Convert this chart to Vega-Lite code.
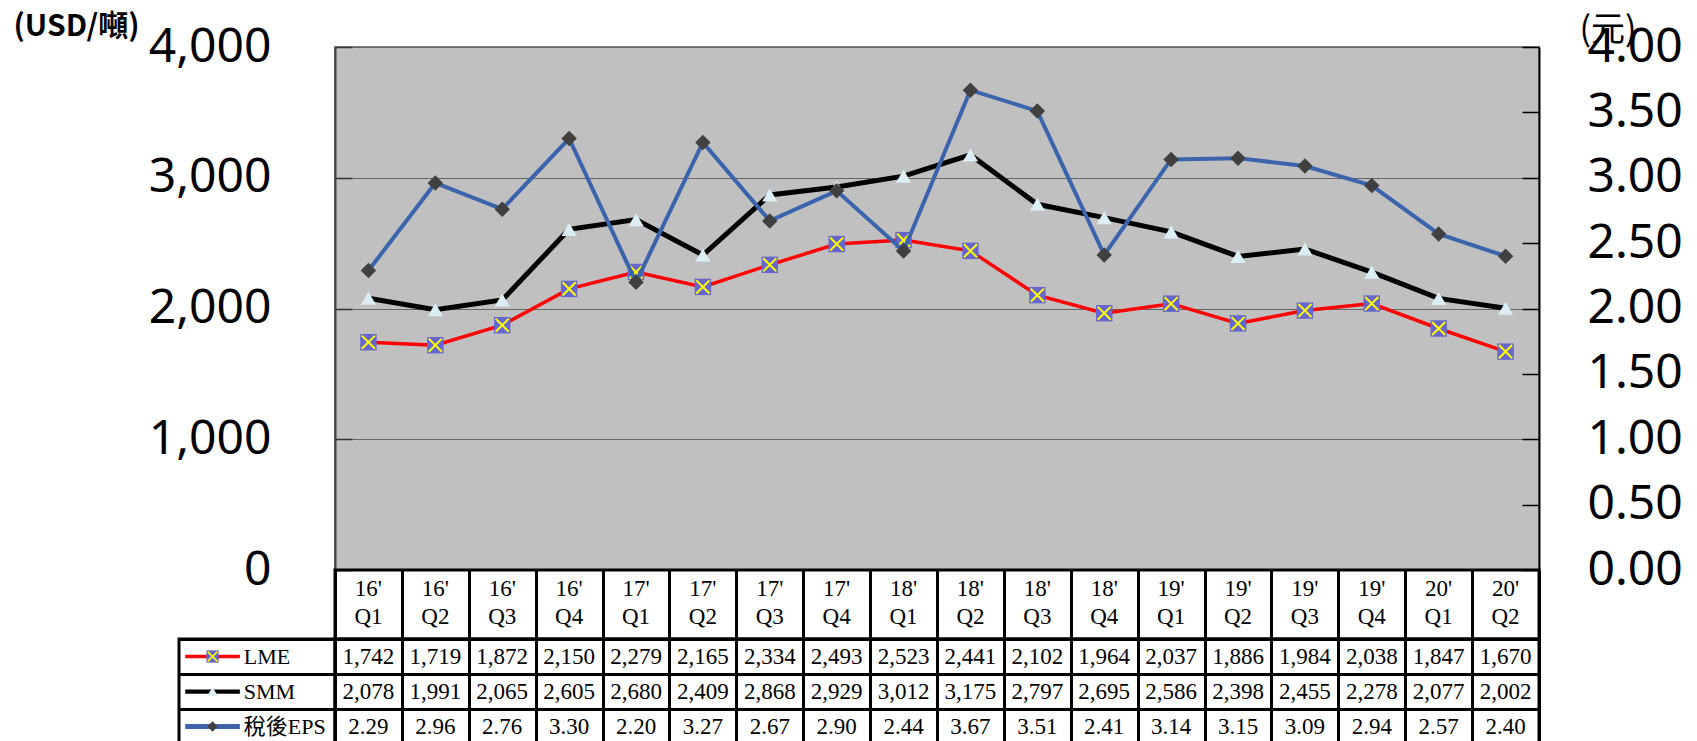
{
 "$schema": "https://vega.github.io/schema/vega-lite/v6.json",
 "padding": {"left": 12, "top": 10, "right": 5, "bottom": 0},
 "background": "white",
 "config": {"view": {"stroke": null}},
 "datasets": {
  "q": [
   {"quarter": "16'\nQ1", "LME": 1742, "SMM": 2078, "EPS": 2.29},
   {"quarter": "16'\nQ2", "LME": 1719, "SMM": 1991, "EPS": 2.96},
   {"quarter": "16'\nQ3", "LME": 1872, "SMM": 2065, "EPS": 2.76},
   {"quarter": "16'\nQ4", "LME": 2150, "SMM": 2605, "EPS": 3.30},
   {"quarter": "17'\nQ1", "LME": 2279, "SMM": 2680, "EPS": 2.20},
   {"quarter": "17'\nQ2", "LME": 2165, "SMM": 2409, "EPS": 3.27},
   {"quarter": "17'\nQ3", "LME": 2334, "SMM": 2868, "EPS": 2.67},
   {"quarter": "17'\nQ4", "LME": 2493, "SMM": 2929, "EPS": 2.90},
   {"quarter": "18'\nQ1", "LME": 2523, "SMM": 3012, "EPS": 2.44},
   {"quarter": "18'\nQ2", "LME": 2441, "SMM": 3175, "EPS": 3.67},
   {"quarter": "18'\nQ3", "LME": 2102, "SMM": 2797, "EPS": 3.51},
   {"quarter": "18'\nQ4", "LME": 1964, "SMM": 2695, "EPS": 2.41},
   {"quarter": "19'\nQ1", "LME": 2037, "SMM": 2586, "EPS": 3.14},
   {"quarter": "19'\nQ2", "LME": 1886, "SMM": 2398, "EPS": 3.15},
   {"quarter": "19'\nQ3", "LME": 1984, "SMM": 2455, "EPS": 3.09},
   {"quarter": "19'\nQ4", "LME": 2038, "SMM": 2278, "EPS": 2.94},
   {"quarter": "20'\nQ1", "LME": 1847, "SMM": 2077, "EPS": 2.57},
   {"quarter": "20'\nQ2", "LME": 1670, "SMM": 2002, "EPS": 2.40}
  ],
  "leg": [
   {"series": "LME", "label": "LME"},
   {"series": "SMM", "label": "SMM"},
   {"series": "EPS", "label": "稅後EPS"}
  ]
 },
 "columns": 2,
 "spacing": 0,
 "bounds": "flush",
 "align": "each",
 "concat": [
  {"width": 156, "height": 523, "data": {"name": "leg"}, "mark": {"type": "point", "opacity": 0}},
  {
   "width": 1204, "height": 523,
   "data": {"name": "q"},
   "view": {"fill": "#c0c0c0", "stroke": "#808080", "strokeWidth": 2},
   "encoding": {
    "x": {"field": "quarter", "type": "ordinal",
     "scale": {"type": "point", "padding": 0.5, "domain": ["16'\nQ1","16'\nQ2","16'\nQ3","16'\nQ4","17'\nQ1","17'\nQ2","17'\nQ3","17'\nQ4","18'\nQ1","18'\nQ2","18'\nQ3","18'\nQ4","19'\nQ1","19'\nQ2","19'\nQ3","19'\nQ4","20'\nQ1","20'\nQ2"]},
     "axis": null}
   },
   "layer": [
    {
     "transform": [{"fold": ["LME", "SMM"], "as": ["s", "v"]}],
     "encoding": {
      "y": {"field": "v", "type": "quantitative", "scale": {"domain": [0, 4000]},
       "axis": {"orient": "left", "title": "(USD/噸)", "titleAngle": 0, "titleAlign": "left", "titleBaseline": "top", "titleX": -322, "titleY": -36,
        "titleFont": "Noto Sans CJK TC", "titleFontSize": 30, "titleFontWeight": "bold", "titleColor": "#000",
        "values": [0, 1000, 2000, 3000, 4000], "format": ",.0f", "labelFont": "Noto Sans", "labelFontSize": 48, "labelColor": "#000",
        "labelPadding": 81, "labelFlush": false, "labelOverlap": false,
        "ticks": true, "tickSize": -17, "tickColor": "#333333", "tickWidth": 1.5,
        "domain": true, "domainColor": "#404040", "domainWidth": 2,
        "grid": true, "gridColor": "#666666", "gridWidth": 1}}
     },
     "layer": [
      {"transform": [{"filter": "datum.s === 'LME'"}], "mark": {"type": "line", "color": "#ff0000", "strokeWidth": 3.5}},
      {"transform": [{"filter": "datum.s === 'LME'"}], "mark": {"type": "point", "shape": "square", "filled": true, "color": "#6666cc", "size": 270, "opacity": 1}},
      {"transform": [{"filter": "datum.s === 'LME'"}], "mark": {"type": "point", "shape": "M-0.8,-0.8L0.8,0.8M0.8,-0.8L-0.8,0.8", "filled": false, "stroke": "#ffff00", "strokeWidth": 2, "size": 270, "opacity": 1}},
      {"transform": [{"filter": "datum.s === 'SMM'"}], "mark": {"type": "line", "color": "#000000", "strokeWidth": 5}},
      {"transform": [{"filter": "datum.s === 'SMM'"}], "mark": {"type": "point", "shape": "triangle-up", "filled": true, "color": "#dbeef3", "size": 230, "opacity": 1}}
     ]
    },
    {
     "encoding": {
      "y": {"field": "EPS", "type": "quantitative", "scale": {"domain": [0, 4]},
       "axis": {"orient": "right", "title": "(元)", "titleAngle": 0, "titleAlign": "left", "titleBaseline": "top", "titleX": 40, "titleY": -34,
        "titleFont": "Noto Sans CJK TC", "titleFontSize": 34, "titleFontWeight": "normal", "titleColor": "#000", "titleLimit": 200,
        "values": [0, 0.5, 1, 1.5, 2, 2.5, 3, 3.5, 4], "format": ".2f", "labelFont": "Noto Sans", "labelFontSize": 48, "labelColor": "#000",
        "labelPadding": 65, "labelFlush": false, "labelOverlap": false,
        "ticks": true, "tickSize": -17, "tickColor": "#000000", "tickWidth": 1.5,
        "domain": true, "domainColor": "#000000", "domainWidth": 2, "grid": false}}
     },
     "layer": [
      {"mark": {"type": "line", "color": "#3b64ad", "strokeWidth": 4}},
      {"mark": {"type": "point", "shape": "diamond", "filled": true, "color": "#404040", "size": 240, "opacity": 1}}
     ]
    }
   ],
   "resolve": {"scale": {"y": "independent"}}
  },
  {"width": 156, "height": 69, "data": {"name": "leg"}, "mark": {"type": "point", "opacity": 0}},
  {
   "width": 1204, "height": 69,
   "data": {"name": "q"},
   "view": {"stroke": "#000000", "strokeWidth": 3},
   "mark": {"type": "text", "lineBreak": "\n", "font": "Liberation Serif", "fontSize": 23, "lineHeight": 28, "color": "#000", "baseline": "middle", "dy": -16},
   "encoding": {
    "x": {"field": "quarter", "type": "ordinal",
     "scale": {"type": "band", "paddingInner": 0, "paddingOuter": 0, "domain": ["16'\nQ1","16'\nQ2","16'\nQ3","16'\nQ4","17'\nQ1","17'\nQ2","17'\nQ3","17'\nQ4","18'\nQ1","18'\nQ2","18'\nQ3","18'\nQ4","19'\nQ1","19'\nQ2","19'\nQ3","19'\nQ4","20'\nQ1","20'\nQ2"]},
     "axis": {"grid": true, "tickBand": "extent", "gridColor": "#000", "gridWidth": 3, "labels": false, "ticks": false, "domain": false, "title": null}},
    "text": {"field": "quarter"}
   }
  },
  {
   "width": 156, "height": 105,
   "data": {"name": "leg"},
   "view": {"stroke": "#000000", "strokeWidth": 3},
   "encoding": {
    "y": {"field": "series", "type": "nominal",
     "scale": {"type": "band", "domain": ["LME", "SMM", "EPS"], "paddingInner": 0, "paddingOuter": 0},
     "axis": {"grid": true, "tickBand": "extent", "gridColor": "#000", "gridWidth": 3, "labels": false, "ticks": false, "domain": false, "title": null}}
   },
   "layer": [
    {"mark": {"type": "rule"},
     "encoding": {
      "x": {"datum": 0.04, "type": "quantitative", "scale": {"domain": [0, 1]}, "axis": null},
      "x2": {"datum": 0.39},
      "color": {"field": "series", "type": "nominal", "scale": {"domain": ["LME", "SMM", "EPS"], "range": ["#ff0000", "#000000", "#3b64ad"]}, "legend": null},
      "strokeWidth": {"field": "series", "type": "nominal", "scale": {"domain": ["LME", "SMM", "EPS"], "range": [3.5, 5, 4]}, "legend": null}
     }},
    {"transform": [{"filter": "datum.series === 'LME'"}], "mark": {"type": "point", "shape": "square", "filled": true, "color": "#6666cc", "size": 150, "opacity": 1},
     "encoding": {"x": {"datum": 0.215, "type": "quantitative"}}},
    {"transform": [{"filter": "datum.series === 'LME'"}], "mark": {"type": "point", "shape": "M-0.8,-0.8L0.8,0.8M0.8,-0.8L-0.8,0.8", "filled": false, "stroke": "#ffff00", "strokeWidth": 1.5, "size": 150, "opacity": 1},
     "encoding": {"x": {"datum": 0.215, "type": "quantitative"}}},
    {"transform": [{"filter": "datum.series === 'SMM'"}], "mark": {"type": "point", "shape": "triangle-up", "filled": true, "color": "#dbeef3", "size": 110, "opacity": 1},
     "encoding": {"x": {"datum": 0.215, "type": "quantitative"}}},
    {"transform": [{"filter": "datum.series === 'EPS'"}], "mark": {"type": "point", "shape": "diamond", "filled": true, "color": "#404040", "size": 110, "opacity": 1},
     "encoding": {"x": {"datum": 0.215, "type": "quantitative"}}},
    {"mark": {"type": "text", "font": "Liberation Serif, Noto Sans CJK TC", "fontSize": 22, "align": "left", "baseline": "middle", "color": "#000"},
     "encoding": {"x": {"datum": 0.415, "type": "quantitative"}, "text": {"field": "label"}}}
   ]
  },
  {
   "width": 1204, "height": 105,
   "data": {"name": "q"},
   "view": {"stroke": "#000000", "strokeWidth": 3},
   "transform": [{"fold": ["LME", "SMM", "EPS"], "as": ["s", "v"]}],
   "encoding": {
    "x": {"field": "quarter", "type": "ordinal",
     "scale": {"type": "band", "paddingInner": 0, "paddingOuter": 0, "domain": ["16'\nQ1","16'\nQ2","16'\nQ3","16'\nQ4","17'\nQ1","17'\nQ2","17'\nQ3","17'\nQ4","18'\nQ1","18'\nQ2","18'\nQ3","18'\nQ4","19'\nQ1","19'\nQ2","19'\nQ3","19'\nQ4","20'\nQ1","20'\nQ2"]},
     "axis": {"grid": true, "tickBand": "extent", "gridColor": "#000", "gridWidth": 3, "labels": false, "ticks": false, "domain": false, "title": null}},
    "y": {"field": "s", "type": "nominal",
     "scale": {"type": "band", "domain": ["LME", "SMM", "EPS"], "paddingInner": 0, "paddingOuter": 0},
     "axis": {"grid": true, "tickBand": "extent", "gridColor": "#000", "gridWidth": 3, "labels": false, "ticks": false, "domain": false, "title": null}}
   },
   "layer": [
    {"transform": [{"filter": "datum.s !== 'EPS'"}],
     "mark": {"type": "text", "font": "Liberation Serif", "fontSize": 23, "color": "#000", "baseline": "middle"},
     "encoding": {"text": {"field": "v", "type": "quantitative", "format": ",.0f"}}},
    {"transform": [{"filter": "datum.s === 'EPS'"}],
     "mark": {"type": "text", "font": "Liberation Serif", "fontSize": 23, "color": "#000", "baseline": "middle"},
     "encoding": {"text": {"field": "v", "type": "quantitative", "format": ".2f"}}}
   ]
  }
 ]
}
